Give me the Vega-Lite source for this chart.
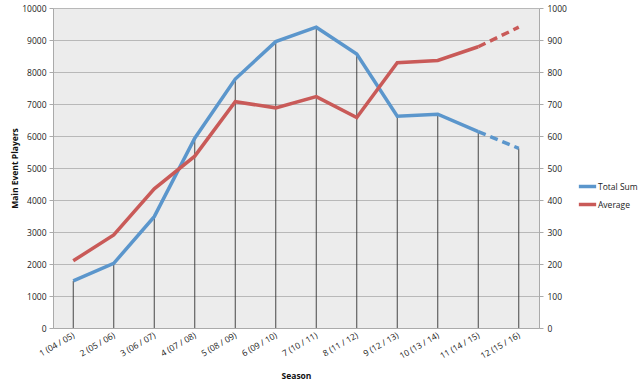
{
  "$schema": "https://vega.github.io/schema/vega-lite/v6.json",
  "width": 486,
  "height": 320,
  "autosize": {"type": "none"},
  "padding": {"left": 53, "top": 8, "right": 99, "bottom": 55},
  "background": "white",
  "config": {
    "view": {"fill": "#ececec", "stroke": null},
    "font": "Open Sans",
    "axis": {"labelFont": "Open Sans", "labelFontSize": 8.5, "labelColor": "#222", "titleFont": "Open Sans", "titleFontSize": 8.5, "titleColor": "#111", "titleFontWeight": "bold", "labelOverlap": false}
  },
  "data": {"values": [
    {"season": "1 (04 / 05)", "idx": 1, "total": 1470, "average": 210},
    {"season": "2 (05 / 06)", "idx": 2, "total": 2020, "average": 291},
    {"season": "3 (06 / 07)", "idx": 3, "total": 3480, "average": 435},
    {"season": "4 (07 / 08)", "idx": 4, "total": 5930, "average": 537},
    {"season": "5 (08 / 09)", "idx": 5, "total": 7780, "average": 707},
    {"season": "6 (09 / 10)", "idx": 6, "total": 8950, "average": 688},
    {"season": "7 (10 / 11)", "idx": 7, "total": 9400, "average": 723},
    {"season": "8 (11 / 12)", "idx": 8, "total": 8560, "average": 658},
    {"season": "9 (12 / 13)", "idx": 9, "total": 6620, "average": 829},
    {"season": "10 (13 / 14)", "idx": 10, "total": 6680, "average": 836},
    {"season": "11 (14 / 15)", "idx": 11, "total": 6135, "average": 879},
    {"season": "12 (15 / 16)", "idx": 12, "total": 5615, "average": 940}
  ]},
  "encoding": {
    "x": {"field": "season", "type": "ordinal", "sort": null, "scale": {"type": "point", "padding": 0.5},
      "axis": {"title": "Season", "labelAngle": -30, "labelAlign": "right", "labelBaseline": "middle", "labelPadding": 6, "ticks": false, "domain": true, "domainColor": "#aaa", "grid": false, "titleX": 243, "titleY": 43, "titleAnchor": "middle", "titleAlign": "center"}},
    "color": {"type": "nominal", "scale": {"domain": ["Total Sum", "Average"], "range": ["#5b96cc", "#c95a58"]},
      "legend": {"title": null, "orient": "none", "legendX": 524, "legendY": 168, "symbolType": "stroke", "symbolStrokeWidth": 3.5, "symbolSize": 300, "labelFontSize": 8.5, "labelColor": "#222", "labelOffset": 0, "rowPadding": -1}}
  },
  "layer": [
    {
      "encoding": {
        "y": {"type": "quantitative", "scale": {"domain": [0, 10000], "nice": false},
          "axis": {"title": "Main Event Players", "values": [0,1000,2000,3000,4000,5000,6000,7000,8000,9000,10000], "format": "d", "gridColor": "#b8b8b8", "gridWidth": 1, "domainColor": "#aaa", "tickColor": "#aaa", "tickSize": 4, "labelPadding": 3, "titlePadding": 2}}
      },
      "layer": [
        {"mark": {"type": "rule", "color": "#333", "strokeWidth": 0.9}, "encoding": {"y": {"field": "total", "type": "quantitative"}, "y2": {"datum": 0}}},
        {"transform": [{"filter": "datum.idx <= 11"}], "mark": {"type": "line", "strokeWidth": 3.5, "strokeJoin": "miter"}, "encoding": {"y": {"field": "total", "type": "quantitative"}, "color": {"datum": "Total Sum"}}},
        {"transform": [{"filter": "datum.idx >= 11"}], "mark": {"type": "line", "strokeWidth": 3.5, "strokeDash": [8, 5]}, "encoding": {"y": {"field": "total", "type": "quantitative"}, "color": {"datum": "Total Sum"}}}
      ]
    },
    {
      "encoding": {
        "y": {"type": "quantitative", "scale": {"domain": [0, 1000], "nice": false},
          "axis": {"title": null, "orient": "right", "values": [0,100,200,300,400,500,600,700,800,900,1000], "format": "d", "grid": false, "domainColor": "#aaa", "tickColor": "#aaa", "tickSize": 4, "labelPadding": 4}}
      },
      "layer": [
        {"transform": [{"filter": "datum.idx <= 11"}], "mark": {"type": "line", "strokeWidth": 3.5, "strokeJoin": "miter"}, "encoding": {"y": {"field": "average", "type": "quantitative"}, "color": {"datum": "Average"}}},
        {"transform": [{"filter": "datum.idx >= 11"}], "mark": {"type": "line", "strokeWidth": 3.5, "strokeDash": [8, 5]}, "encoding": {"y": {"field": "average", "type": "quantitative"}, "color": {"datum": "Average"}}}
      ]
    }
  ],
  "resolve": {"scale": {"y": "independent"}}
}
